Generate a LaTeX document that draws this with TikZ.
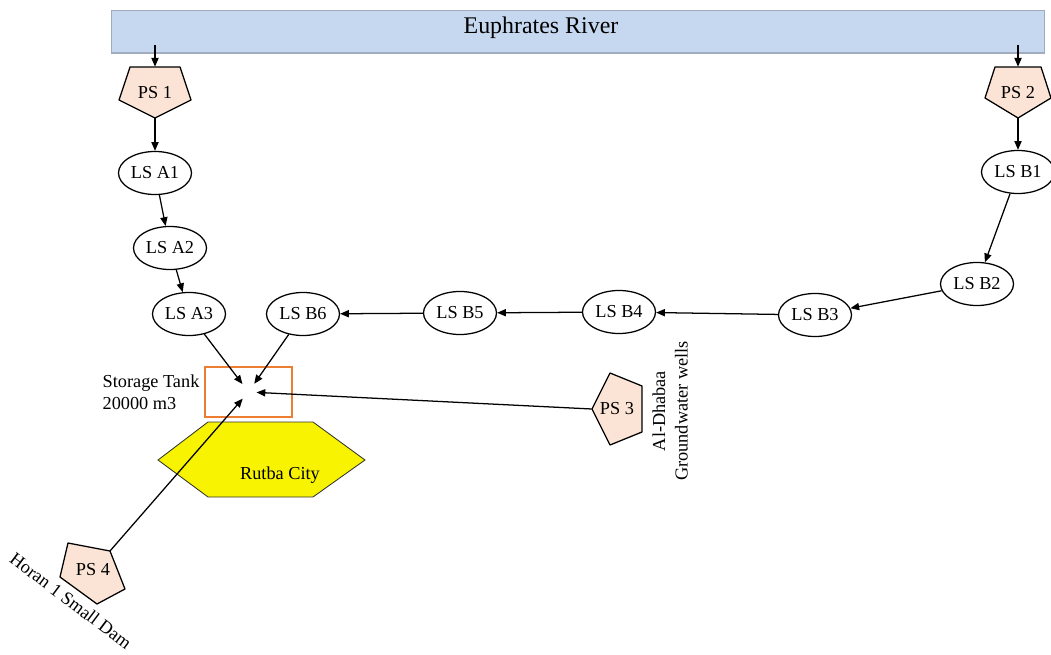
\documentclass[tikz,border=0pt]{standalone}
\usepackage{fontspec}
\setmainfont{Liberation Serif}
\usetikzlibrary{shapes.geometric,arrows.meta}
\definecolor{riverblue}{RGB}{198,216,239}
\definecolor{riveredge}{RGB}{160,172,190}
\definecolor{pumpfill}{RGB}{251,228,213}
\definecolor{tankorange}{RGB}{237,125,49}
\definecolor{cityyellow}{RGB}{248,243,0}
\begin{document}
\begin{tikzpicture}[x=0.025cm, y=-0.025cm,
		every node/.style={font=\fontsize{13}{16}\selectfont},
		flow/.style={-{Triangle[length=2.2mm, width=1.8mm]}, line width=0.9pt},
		lift/.style={ellipse, draw, line width=0.9pt, minimum width=1.825cm, minimum height=1.075cm, inner sep=0pt},
		pump/.style={draw=black, fill=pumpfill, line width=0.9pt, line join=round},
		pumplabel/.style={inner sep=0pt}]
		\useasboundingbox (0,0) rectangle (1051,655);

		\node[draw=riveredge, fill=riverblue, minimum width=23.325cm, minimum height=1.075cm] (river) at (577.5,31.5) {};
		\draw[riveredge, line width=1.2pt] (river.south west) -- (river.south east);
		\node[font=\fontsize{17}{20}\selectfont] (rivername) at (541,28) {Euphrates River};

		\filldraw[pump] (130,67) -- ++(50,0) -- ++(11,33) -- ++(-36,18) -- ++(-36,-18) -- cycle;
		\node[pumplabel, minimum width=1.8cm, minimum height=1.275cm] (ps1) at (155,92.5) {PS 1};

		\filldraw[pump] (995,67) -- ++(46,0) -- ++(10,31) -- ++(-33,20) -- ++(-33,-20) -- cycle;
		\node[pumplabel, minimum width=1.65cm, minimum height=1.275cm] (ps2) at (1018,92.5) {PS 2};

		\filldraw[pump] (592,409) -- ++(18,-36) -- ++(32,13) -- ++(0,46) -- ++(-32,13) -- cycle;
		\node[pumplabel, minimum width=1.25cm, minimum height=1.8cm] (ps3) at (617,409) {PS 3};

		\filldraw[pump] (68,543) -- ++(42,8) coordinate (ps4tip) -- ++(15,38) -- ++(-28,15) -- ++(-37,-27) -- cycle;
		\node[pumplabel] (ps4) at (93,570) {PS 4};

		\filldraw[draw=black!80, fill=cityyellow, line width=0.6pt] (208,422) -- ++(105,0) -- ++(52,38) -- ++(-52,37) -- ++(-105,0) -- ++(-50,-37) -- cycle;
		\node (city) at (280,475) {Rutba City};

		\node[draw=tankorange, line width=1.6pt, minimum width=2.175cm, minimum height=1.25cm] (tank) at (248.5,392) {};
		\node[left, align=left, inner sep=3pt] (tanklabel) at (tank.west) {Storage Tank\\20000 m3};

		\node[lift] (lsa1) at (155,173) {LS A1};
		\node[lift] (lsa2) at (170,248) {LS A2};
		\node[lift] (lsa3) at (189,314) {LS A3};
		\node[lift] (lsb1) at (1018,172) {LS B1};
		\node[lift] (lsb2) at (977,284) {LS B2};
		\node[lift] (lsb3) at (815,315) {LS B3};
		\node[lift] (lsb4) at (619,312) {LS B4};
		\node[lift] (lsb5) at (460,313) {LS B5};
		\node[lift] (lsb6) at (303,314) {LS B6};

		\node[rotate=90, align=center] (dhabaa) at (670,411) {Al-Dhabaa\\Groundwater wells};
		\node[rotate=-37] (horan) at (71,601) {Horan 1 Small Dam};

		\draw[flow] ([yshift=0.2cm]river.south -| ps1.north) -- (ps1.north);
		\draw[flow] ([yshift=0.2cm]river.south -| ps2.north) -- (ps2.north);
		\draw[flow] (ps1.south) -- (lsa1);
		\draw[flow] (lsa1) -- (lsa2);
		\draw[flow] (lsa2) -- (lsa3);
		\draw[flow] (ps2.south) -- (lsb1);
		\draw[flow] (lsb1) -- (lsb2);
		\draw[flow] (lsb2) -- (lsb3);
		\draw[flow] (lsb3) -- (lsb4);
		\draw[flow] (lsb4) -- (lsb5);
		\draw[flow] (lsb5) -- (lsb6);
		\draw[flow, shorten >=0.25cm] (lsa3) -- (tank.center);
		\draw[flow, shorten >=0.25cm] (lsb6) -- (tank.center);
		\draw[flow, shorten >=0.2cm] (ps3.west) -- (tank.center);
		\draw[flow, shorten >=0.22cm] (ps4tip) -- (tank.center);
	\end{tikzpicture}
\end{document}
